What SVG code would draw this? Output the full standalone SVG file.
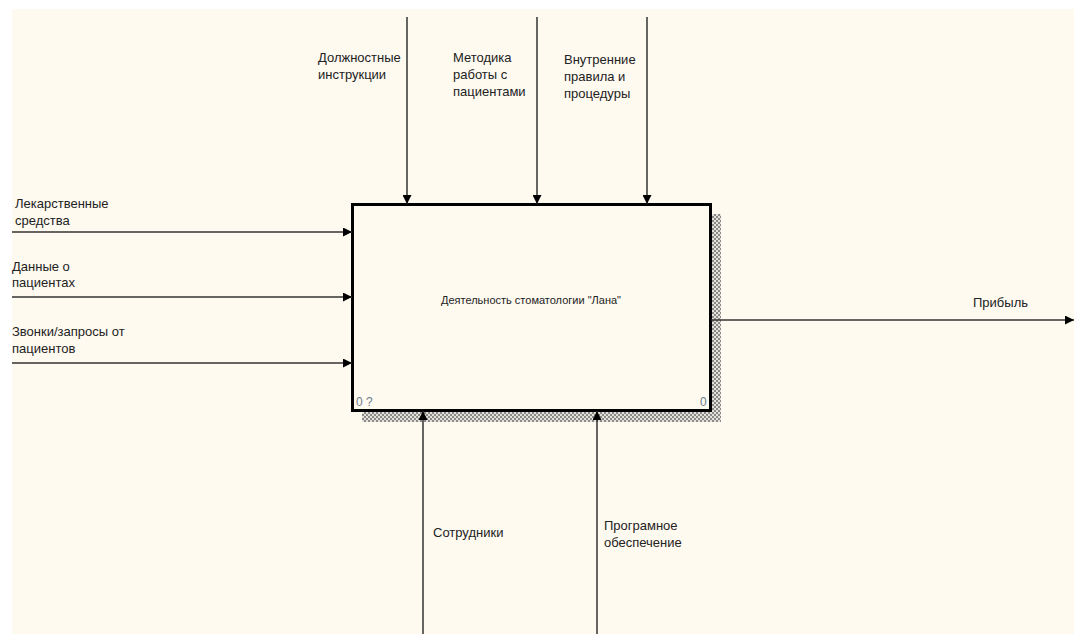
<svg xmlns="http://www.w3.org/2000/svg" width="1074" height="634" viewBox="0 0 1074 634">
<style>
.lbl{font-family:"Liberation Sans",Arial,sans-serif;font-size:13px;fill:#222}
.ttl{font-family:"Liberation Sans",Arial,sans-serif;font-size:11px;fill:#222}
.num{font-family:"Liberation Sans",Arial,sans-serif;font-size:12px;fill:#6d7c8c}
.arc{stroke:#333;stroke-width:1.5;fill:none}
</style>
<defs>
<pattern id="hatch" width="4" height="4" patternUnits="userSpaceOnUse">
<rect width="4" height="4" fill="#e4e1d8"/>
<rect width="2" height="2" fill="#8a8a8a"/>
<rect x="2" y="2" width="2" height="2" fill="#8a8a8a"/>
</pattern>
<marker id="arr" viewBox="0 0 10 10" refX="10" refY="5" markerWidth="10" markerHeight="9" markerUnits="userSpaceOnUse" orient="auto">
<path d="M0,0 L10,5 L0,10 Z" fill="#000"/>
</marker>
</defs>
<rect width="1074" height="634" fill="#ffffff"/>
<rect x="12" y="9" width="1062" height="625" fill="#fffaf0"/>
<g id="node-main">
<rect x="711" y="214" width="10" height="208" fill="url(#hatch)"/>
<rect x="362" y="411" width="359" height="11" fill="url(#hatch)"/>
<rect x="352.5" y="204.5" width="358" height="206" fill="#fffaf0" stroke="#000" stroke-width="3"/>
<text class="ttl" x="531" y="304" text-anchor="middle">Деятельность стоматологии "Лана"</text>
<text class="num" x="356" y="406">0 ?</text>
<text class="num" x="700" y="406">0</text>
</g>
<g id="connectors">
<line class="arc" x1="12" y1="232" x2="352" y2="232" marker-end="url(#arr)"/>
<line class="arc" x1="12" y1="297" x2="352" y2="297" marker-end="url(#arr)"/>
<line class="arc" x1="12" y1="363" x2="352" y2="363" marker-end="url(#arr)"/>
<line class="arc" x1="407" y1="17" x2="407" y2="204" marker-end="url(#arr)"/>
<line class="arc" x1="537" y1="17" x2="537" y2="204" marker-end="url(#arr)"/>
<line class="arc" x1="647" y1="17" x2="647" y2="204" marker-end="url(#arr)"/>
<line class="arc" x1="423" y1="634" x2="423" y2="411" marker-end="url(#arr)"/>
<line class="arc" x1="597" y1="634" x2="597" y2="411" marker-end="url(#arr)"/>
<line class="arc" x1="711" y1="320" x2="1074" y2="320" marker-end="url(#arr)"/>
</g>
<g id="labels">
<text class="lbl" x="15" y="208">Лекарственные</text>
<text class="lbl" x="15" y="225">средства</text>
<text class="lbl" x="12" y="271">Данные о</text>
<text class="lbl" x="12" y="287">пациентах</text>
<text class="lbl" x="12" y="336">Звонки/запросы от</text>
<text class="lbl" x="12" y="353">пациентов</text>
<text class="lbl" x="318" y="62">Должностные</text>
<text class="lbl" x="318" y="79">инструкции</text>
<text class="lbl" x="453" y="62">Методика</text>
<text class="lbl" x="453" y="79">работы с</text>
<text class="lbl" x="453" y="96">пациентами</text>
<text class="lbl" x="564" y="64">Внутренние</text>
<text class="lbl" x="564" y="81">правила и</text>
<text class="lbl" x="564" y="98">процедуры</text>
<text class="lbl" x="433" y="537">Сотрудники</text>
<text class="lbl" x="604" y="530">Програмное</text>
<text class="lbl" x="604" y="547">обеспечение</text>
<text class="lbl" x="973" y="307">Прибыль</text>
</g>
</svg>
